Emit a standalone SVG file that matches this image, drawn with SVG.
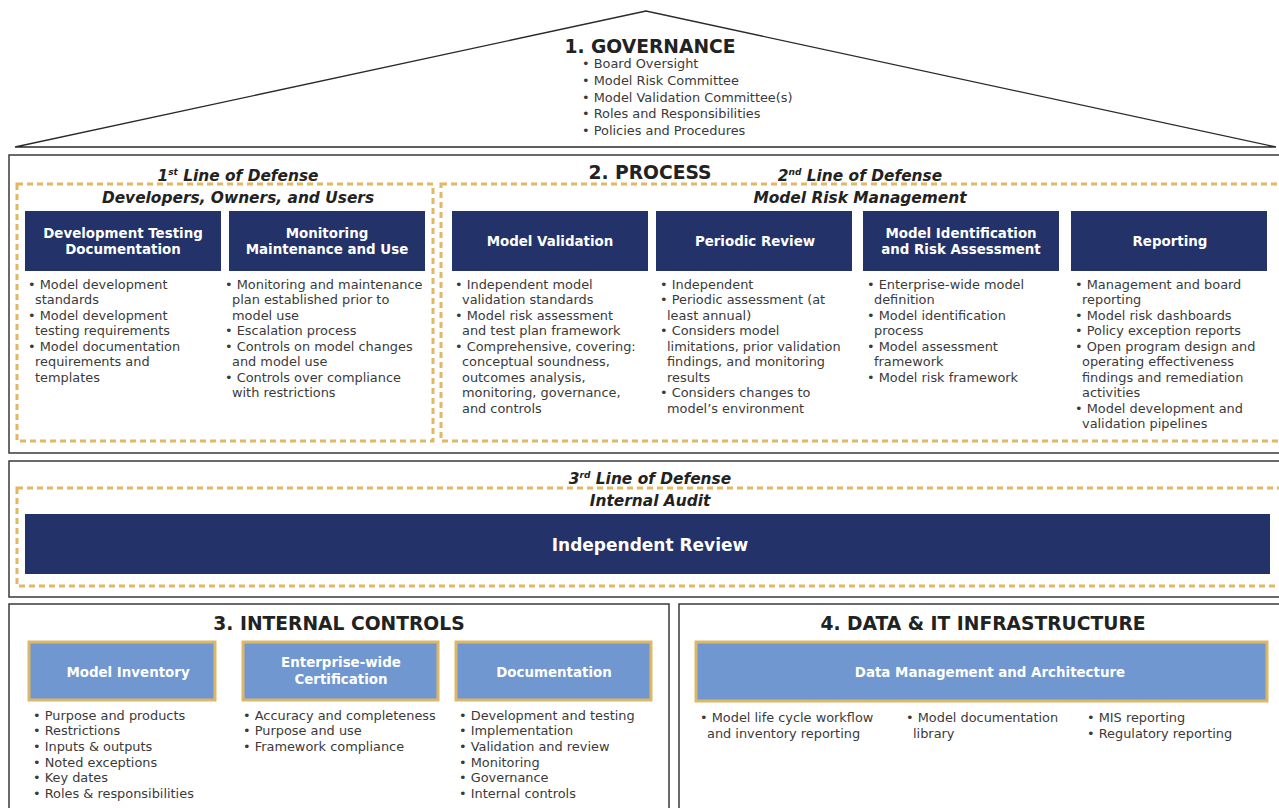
<svg xmlns="http://www.w3.org/2000/svg" width="1279" height="808" viewBox="0 0 1279 808">
  <style>
    .frame { fill: #ffffff; stroke: #3a3a3a; stroke-width: 1.5; }
    .dash { fill: none; stroke: #E2B865; stroke-width: 3; stroke-dasharray: 6 4; }
    .navy { fill: #233268; }
    .light { fill: #7097CF; stroke: #DDB768; stroke-width: 3; }
    .h1 { font-family: "DejaVu Sans", sans-serif; font-weight: bold; font-size: 18.7px; fill: #222; text-anchor: middle; }
    .ital { font-family: "DejaVu Sans", sans-serif; font-weight: bold; font-style: italic; font-size: 15.4px; fill: #222; text-anchor: middle; }
    .lbl { font-family: "DejaVu Sans", sans-serif; font-weight: bold; font-size: 13.4px; fill: #ffffff; text-anchor: middle; }
    .big { font-size: 17px; }
    .body { font-family: "DejaVu Sans", sans-serif; font-size: 12.9px; fill: #3a3a3a; }
    .gov { font-family: "DejaVu Sans", sans-serif; font-size: 12.9px; fill: #3a3a3a; }
  </style>

  <!-- Governance roof -->
  <g id="governance">
    <polygon points="646,11 15,147 1276,147" fill="#ffffff" stroke="#2a2a2a" stroke-width="1.3"/>
    <text class="h1" x="650" y="53">1. GOVERNANCE</text>
    <text class="gov" x="582" y="68">• Board Oversight</text>
    <text class="gov" x="582" y="85">• Model Risk Committee</text>
    <text class="gov" x="582" y="102">• Model Validation Committee(s)</text>
    <text class="gov" x="582" y="118">• Roles and Responsibilities</text>
    <text class="gov" x="582" y="135">• Policies and Procedures</text>
  </g>

  <!-- Process section -->
  <g id="process">
    <rect class="frame" x="9" y="155" width="1280" height="298"/>
    <text class="h1" x="650" y="179">2. PROCESS</text>
    <text class="ital" x="238" y="181">1<tspan font-size="9" dy="-6">st</tspan><tspan dy="6"> Line of Defense</tspan></text>
    <text class="ital" x="860" y="181">2<tspan font-size="9" dy="-6">nd</tspan><tspan dy="6"> Line of Defense</tspan></text>
    <rect class="dash" x="17" y="184" width="416" height="257"/>
    <rect class="dash" x="441" y="184" width="845" height="257"/>
    <text class="ital" x="238" y="203">Developers, Owners, and Users</text>
    <text class="ital" x="860" y="203">Model Risk Management</text>
  </g>

  <g id="dev-testing-doc">
    <rect class="navy" x="25" y="211" width="196" height="60"/>
    <text class="lbl" x="123" y="238">Development Testing</text>
    <text class="lbl" x="123" y="254">Documentation</text>
    <text class="body" x="28" y="289">• Model development</text>
    <text class="body" x="35" y="304">standards</text>
    <text class="body" x="28" y="320">• Model development</text>
    <text class="body" x="35" y="335">testing requirements</text>
    <text class="body" x="28" y="351">• Model documentation</text>
    <text class="body" x="35" y="366">requirements and</text>
    <text class="body" x="35" y="382">templates</text>
  </g>

  <g id="monitoring">
    <rect class="navy" x="229" y="211" width="196" height="60"/>
    <text class="lbl" x="327" y="238">Monitoring</text>
    <text class="lbl" x="327" y="254">Maintenance and Use</text>
    <text class="body" x="225" y="289">• Monitoring and maintenance</text>
    <text class="body" x="232" y="304">plan established prior to</text>
    <text class="body" x="232" y="320">model use</text>
    <text class="body" x="225" y="335">• Escalation process</text>
    <text class="body" x="225" y="351">• Controls on model changes</text>
    <text class="body" x="232" y="366">and model use</text>
    <text class="body" x="225" y="382">• Controls over compliance</text>
    <text class="body" x="232" y="397">with restrictions</text>
  </g>

  <g id="model-validation">
    <rect class="navy" x="452" y="211" width="196" height="60"/>
    <text class="lbl" x="550" y="246">Model Validation</text>
    <text class="body" x="455" y="289">• Independent model</text>
    <text class="body" x="462" y="304">validation standards</text>
    <text class="body" x="455" y="320">• Model risk assessment</text>
    <text class="body" x="462" y="335">and test plan framework</text>
    <text class="body" x="455" y="351">• Comprehensive, covering:</text>
    <text class="body" x="462" y="366">conceptual soundness,</text>
    <text class="body" x="462" y="382">outcomes analysis,</text>
    <text class="body" x="462" y="397">monitoring, governance,</text>
    <text class="body" x="462" y="413">and controls</text>
  </g>

  <g id="periodic-review">
    <rect class="navy" x="656" y="211" width="196" height="60"/>
    <text class="lbl" x="755" y="246">Periodic Review</text>
    <text class="body" x="660" y="289">• Independent</text>
    <text class="body" x="660" y="304">• Periodic assessment (at</text>
    <text class="body" x="667" y="320">least annual)</text>
    <text class="body" x="660" y="335">• Considers model</text>
    <text class="body" x="667" y="351">limitations, prior validation</text>
    <text class="body" x="667" y="366">findings, and monitoring</text>
    <text class="body" x="667" y="382">results</text>
    <text class="body" x="660" y="397">• Considers changes to</text>
    <text class="body" x="667" y="413">model’s environment</text>
  </g>

  <g id="model-identification">
    <rect class="navy" x="863" y="211" width="196" height="60"/>
    <text class="lbl" x="961" y="238">Model Identification</text>
    <text class="lbl" x="961" y="254">and Risk Assessment</text>
    <text class="body" x="867" y="289">• Enterprise-wide model</text>
    <text class="body" x="874" y="304">definition</text>
    <text class="body" x="867" y="320">• Model identification</text>
    <text class="body" x="874" y="335">process</text>
    <text class="body" x="867" y="351">• Model assessment</text>
    <text class="body" x="874" y="366">framework</text>
    <text class="body" x="867" y="382">• Model risk framework</text>
  </g>

  <g id="reporting">
    <rect class="navy" x="1071" y="211" width="196" height="60"/>
    <text class="lbl" x="1170" y="246">Reporting</text>
    <text class="body" x="1075" y="289">• Management and board</text>
    <text class="body" x="1082" y="304">reporting</text>
    <text class="body" x="1075" y="320">• Model risk dashboards</text>
    <text class="body" x="1075" y="335">• Policy exception reports</text>
    <text class="body" x="1075" y="351">• Open program design and</text>
    <text class="body" x="1082" y="366">operating effectiveness</text>
    <text class="body" x="1082" y="382">findings and remediation</text>
    <text class="body" x="1082" y="397">activities</text>
    <text class="body" x="1075" y="413">• Model development and</text>
    <text class="body" x="1082" y="428">validation pipelines</text>
  </g>

  <!-- Third line of defense -->
  <g id="internal-audit">
    <rect class="frame" x="9" y="461" width="1280" height="136"/>
    <text class="ital" x="650" y="484">3<tspan font-size="9" dy="-6">rd</tspan><tspan dy="6"> Line of Defense</tspan></text>
    <rect class="dash" x="17" y="488" width="1270" height="98"/>
    <text class="ital" x="650" y="506">Internal Audit</text>
    <rect class="navy" x="25" y="514" width="1245" height="60"/>
    <text class="lbl big" x="650" y="551">Independent Review</text>
  </g>

  <!-- Internal controls -->
  <g id="internal-controls">
    <rect class="frame" x="9" y="604" width="660" height="220"/>
    <text class="h1" x="339" y="630">3. INTERNAL CONTROLS</text>
  </g>

  <g id="model-inventory">
    <rect class="light" x="29" y="642" width="186" height="58"/>
    <text class="lbl" x="128" y="677">Model Inventory</text>
    <text class="body" x="33" y="720">• Purpose and products</text>
    <text class="body" x="33" y="735">• Restrictions</text>
    <text class="body" x="33" y="751">• Inputs &amp; outputs</text>
    <text class="body" x="33" y="767">• Noted exceptions</text>
    <text class="body" x="33" y="782">• Key dates</text>
    <text class="body" x="33" y="798">• Roles &amp; responsibilities</text>
  </g>

  <g id="certification">
    <rect class="light" x="243" y="642" width="195" height="58"/>
    <text class="lbl" x="341" y="667">Enterprise-wide</text>
    <text class="lbl" x="341" y="684">Certification</text>
    <text class="body" x="243" y="720">• Accuracy and completeness</text>
    <text class="body" x="243" y="735">• Purpose and use</text>
    <text class="body" x="243" y="751">• Framework compliance</text>
  </g>

  <g id="documentation">
    <rect class="light" x="456" y="642" width="195" height="58"/>
    <text class="lbl" x="554" y="677">Documentation</text>
    <text class="body" x="459" y="720">• Development and testing</text>
    <text class="body" x="459" y="735">• Implementation</text>
    <text class="body" x="459" y="751">• Validation and review</text>
    <text class="body" x="459" y="767">• Monitoring</text>
    <text class="body" x="459" y="782">• Governance</text>
    <text class="body" x="459" y="798">• Internal controls</text>
  </g>

  <!-- Data & IT infrastructure -->
  <g id="data-it">
    <rect class="frame" x="679" y="604" width="620" height="220"/>
    <text class="h1" x="983" y="630">4. DATA &amp; IT INFRASTRUCTURE</text>
  </g>

  <g id="data-management">
    <rect class="light" x="696" y="642" width="571" height="59"/>
    <text class="lbl" x="990" y="677">Data Management and Architecture</text>
    <text class="body" x="700" y="722">• Model life cycle workflow</text>
    <text class="body" x="707" y="738">and inventory reporting</text>
    <text class="body" x="906" y="722">• Model documentation</text>
    <text class="body" x="913" y="738">library</text>
    <text class="body" x="1087" y="722">• MIS reporting</text>
    <text class="body" x="1087" y="738">• Regulatory reporting</text>
  </g>
</svg>
